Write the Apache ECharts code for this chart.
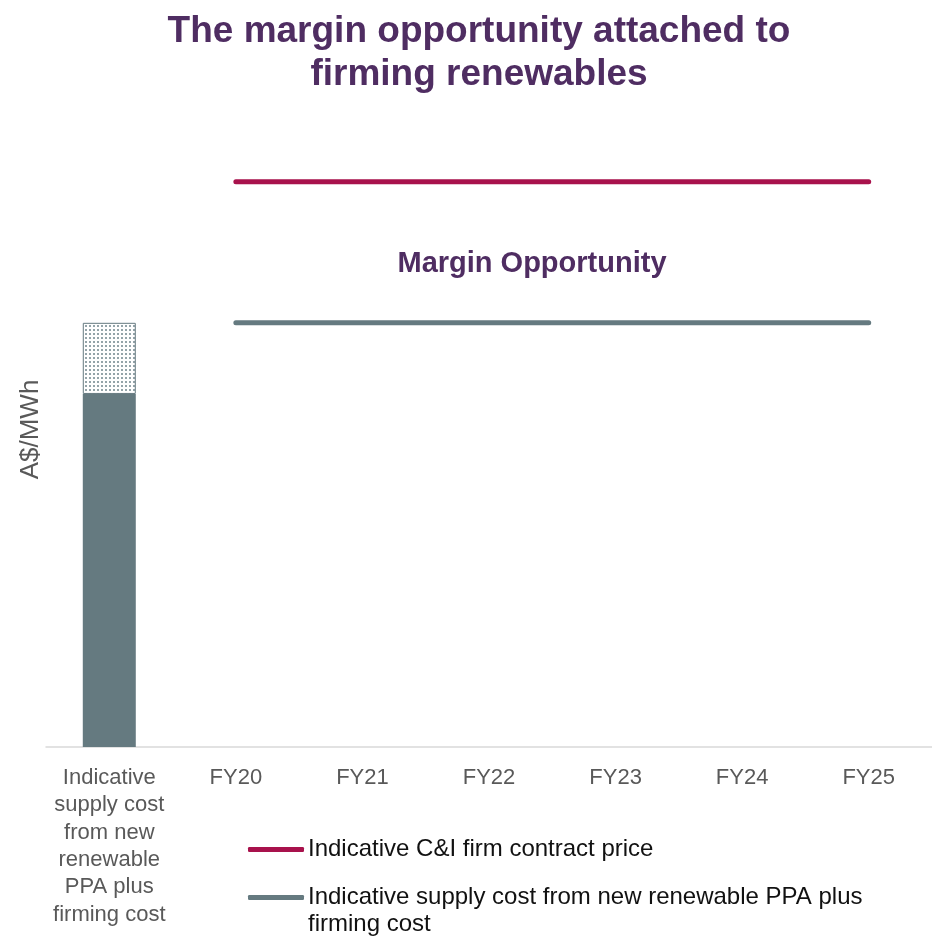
<!DOCTYPE html>
<html>
<head>
<meta charset="utf-8">
<script src="https://cdn.jsdelivr.net/npm/echarts@6/dist/echarts.min.js"></script>
<style>
  html, body { margin: 0; padding: 0; background: #fff; }
  #chart { width: 932px; height: 936px; }
</style>
</head>
<body>
<div id="chart"></div>
<script>
// categories
const categories = ['Indicative\nsupply cost\nfrom new\nrenewable\nPPA plus\nfirming cost', 'FY20', 'FY21', 'FY22', 'FY23', 'FY24', 'FY25'];
// stacked bar (first category only)
const ppaCost = [55.6, null, null, null, null, null, null];
const firmingCost = [11.2, null, null, null, null, null, null];
// lines
const contractPrice = [null, 89, 89, 89, 89, 89, 89];
const supplyCost = [null, 66.8, 66.8, 66.8, 66.8, 66.8, 66.8];

const contractName = 'Indicative C&I firm contract price';
const supplyName = 'Indicative supply cost from new renewable PPA plus firming cost';

const purple = '#4F2D62';
const crimson = '#A8124C';
const slate = '#657A80';
const font = 'Liberation Sans';

// dotted pattern for the firming part
const pat = document.createElement('canvas');
pat.width = 4; pat.height = 4;
const pctx = pat.getContext('2d');
pctx.fillStyle = '#ffffff';
pctx.fillRect(0, 0, 4, 4);
pctx.fillStyle = '#94a4a9';
pctx.fillRect(1, 1, 2, 2);

const legendBase = {
  orient: 'vertical',
  left: 243,
  itemWidth: 56,
  itemHeight: 5,
  icon: 'roundRect',
  textStyle: { fontFamily: font, fontSize: 24, color: '#111', width: 580, overflow: 'break', lineHeight: 27, padding: [0, 0, 0, -1] }
};

const chart = echarts.init(document.getElementById('chart'));
chart.setOption({
  animation: false,
  title: [{
    text: 'The margin opportunity attached to\nfirming renewables',
    left: 474,
    textAlign: 'center',
    top: 5,
    textStyle: { fontFamily: font, fontSize: 37, fontWeight: 'bold', color: purple, lineHeight: 43 }
  }, {
    text: 'Margin Opportunity',
    left: 527,
    textAlign: 'center',
    top: 244,
    textStyle: { fontFamily: font, fontSize: 29, fontWeight: 'bold', color: purple }
  }],
  grid: { left: 46, top: 112, width: 886, height: 635, outerBoundsMode: 'none' },
  legend: [
    Object.assign({}, legendBase, { top: 831, data: [contractName] }),
    // blank first line keeps the icon level with the first text line
    Object.assign({}, legendBase, {
      top: 852,
      data: [supplyName],
      formatter: function (name) { return '\n' + name; }
    })
  ],
  xAxis: {
    type: 'category',
    data: categories,
    axisLine: { lineStyle: { color: '#D9D9D9', width: 1.5 } },
    axisTick: { show: false },
    axisLabel: { fontFamily: font, fontSize: 22, color: '#595959', margin: 17, lineHeight: 27.4, interval: 0 }
  },
  yAxis: {
    type: 'value',
    min: 0,
    max: 100,
    name: 'A$/MWh',
    nameLocation: 'middle',
    nameGap: 2,
    nameTextStyle: { fontFamily: font, fontSize: 26, color: '#595959' },
    axisLine: { show: false },
    axisTick: { show: false },
    axisLabel: { show: false },
    splitLine: { show: false }
  },
  series: [{
    type: 'bar',
    name: 'PPA',
    stack: 'cost',
    data: ppaCost,
    barWidth: 53,
    itemStyle: { color: slate }
  }, {
    type: 'bar',
    name: 'Firming',
    stack: 'cost',
    data: firmingCost,
    barWidth: 53,
    itemStyle: { color: { image: pat, repeat: 'repeat' }, borderColor: slate, borderWidth: 1 }
  }, {
    type: 'line',
    name: contractName,
    data: contractPrice,
    symbol: 'none',
    lineStyle: { color: crimson, width: 5, cap: 'round' },
    itemStyle: { color: crimson }
  }, {
    type: 'line',
    name: supplyName,
    data: supplyCost,
    symbol: 'none',
    lineStyle: { color: slate, width: 5, cap: 'round' },
    itemStyle: { color: slate }
  }]
});
</script>
</body>
</html>
